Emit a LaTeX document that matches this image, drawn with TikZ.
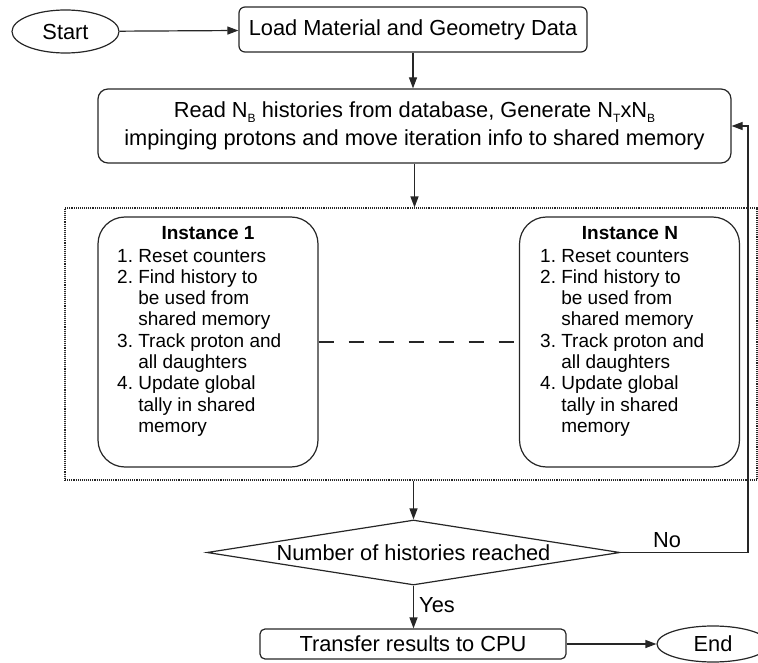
\documentclass[tikz,border=0pt]{standalone}
\usepackage{fontspec}
\setmainfont{Liberation Sans}
\usetikzlibrary{shapes.geometric,arrows.meta}
\newcommand\mysubs[1]{\raisebox{-5pt}{\fontsize{12}{12}\selectfont #1}}
\begin{document}
\begin{tikzpicture}[x=1pt,y=-1pt,
  every node/.style={font=\fontsize{21.8}{28}\selectfont, text=black},
  ln/.style={line width=1.2pt, draw=black!85},
  box/.style={ln, rectangle, inner sep=0pt},
  arr/.style={ln, -{Triangle[length=11pt,width=8pt]}},
  insttitle/.style={font=\fontsize{19}{21.3}\selectfont\bfseries, inner sep=0pt, anchor=base},
  insttext/.style={font=\fontsize{19}{21.3}\selectfont, inner sep=0pt, anchor=base west, align=left},
  instbox/.style={box, rounded corners=27pt, minimum width=220pt, minimum height=250pt}]
\useasboundingbox (0,0) rectangle (758,663);

\node[box, ellipse, minimum width=107pt, minimum height=43pt] (start) at (65.5,31.5) {Start};
\node[box, rounded corners=6pt, minimum width=348pt, minimum height=45pt] (load) at (413,29.5) {Load Material and Geometry Data};
\node[box, rounded corners=10pt, minimum width=633pt, minimum height=74pt, align=center] (read) at (414.5,126)
  {Read N\mysubs{B} histories from database, Generate N\mysubs{T}xN\mysubs{B}\\
   impinging protons and move iteration info to shared memory};

\node[draw=black!85, densely dotted, line width=1.1pt, rectangle, inner sep=0pt, minimum width=692pt, minimum height=272pt] (grp) at (411,344) {};

\node[instbox] (i1) at (208,342) {};
\node[instbox] (iN) at (629.5,342) {};
\node[insttitle] (h1) at (208,240) {Instance 1};
\node[insttitle] (hN) at (630,240) {Instance N};
\node[insttext] (t1) at (117,262) {\begin{tabular}[t]{@{}l@{\ }l@{}}
1. & Reset counters\\
2. & Find history to\\
   & be used from\\
   & shared memory\\
3. & Track proton and\\
   & all daughters\\
4. & Update global\\
   & tally in shared\\
   & memory
\end{tabular}};
\node[insttext] (tN) at (540,262) {\begin{tabular}[t]{@{}l@{\ }l@{}}
1. & Reset counters\\
2. & Find history to\\
   & be used from\\
   & shared memory\\
3. & Track proton and\\
   & all daughters\\
4. & Update global\\
   & tally in shared\\
   & memory
\end{tabular}};
\draw[ln, dash pattern=on 15pt off 15pt] (i1.east) -- (iN.west);

\node[ln, draw, diamond, aspect=6.35, minimum width=413pt, minimum height=65pt, inner sep=0pt] (dia) at (413.5,552.5) {Number of histories reached};
\node[box, rounded corners=5pt, minimum width=306pt, minimum height=30pt] (tr) at (413,644) {Transfer results to CPU};
\node[box, ellipse, minimum width=112pt, minimum height=36pt] (end) at (713,644) {End};

\coordinate (fbc) at (748,552.5);
\node[inner sep=0pt] (no) at (667,540) {No};
\node[inner sep=0pt, anchor=west] (yes) at (419,605) {Yes};

\draw[arr] (start) -- (load);
\draw[arr] (load.south) -- (load.south |- read.north);
\draw[arr] (read.south) -- (read.south |- grp.north);
\draw[arr] (dia.north |- grp.south) -- (dia.north);
\draw[arr] (dia.south) -- (dia.south |- tr.north);
\draw[ln] (dia.east) -- (fbc);
\draw[arr] (fbc) |- (read.east);
\draw[arr] (tr) -- (end);
\end{tikzpicture}
\end{document}
